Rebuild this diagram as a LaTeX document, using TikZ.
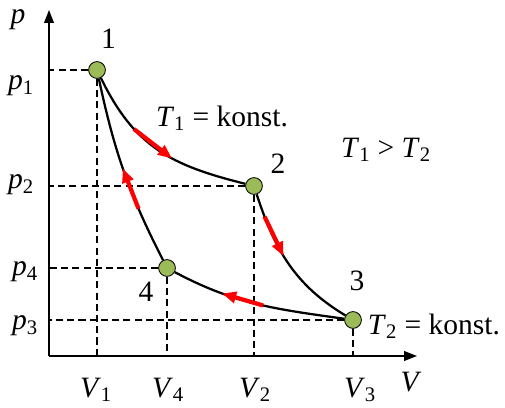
\documentclass[tikz,border=0pt]{standalone}
\usepackage{fontspec}
\setmainfont{Liberation Serif}
\usetikzlibrary{arrows.meta,positioning}
\definecolor{dotgreen}{HTML}{9BBB59}
\newcommand{\sym}[2]{\textit{#1}\textsubscript{#2}}
\tikzset{
    state/.style={circle, draw, fill=dotgreen, minimum size=4.2mm, inner sep=0pt, line width=0.6pt},
    curve/.style={draw, line width=1.6pt},
    flow/.style={draw=red, line width=3pt, -{Triangle[length=10pt,width=8pt]}},
    guide/.style={draw, dash pattern=on 5pt off 3pt, line width=0.8pt},
    axis/.style={draw, line width=1.2pt, -{Triangle[length=3.2mm,width=2.4mm]}}
}

\begin{document}
\begin{tikzpicture}[font=\fontsize{21}{25}\selectfont]
    \useasboundingbox (-1.225,-1.3) rectangle (11.4,8.9);
    % axes
    \coordinate (O) at (0,0);
    \coordinate (Ytop) at (0,8.65);
    \coordinate (Xend) at (9.2,0);
    \draw[axis] (O) -- (Ytop);
    \draw[axis] (O) -- (Xend);
    \node (pAx) at (-0.775,8.4) {\textit{p}};
    \node (VAx) at (9.05,-0.65) {\textit{V}};

    % Nodes
    \node[state] (S1) at (1.2,7.15) {};
    \node[state] (S2) at (5.125,4.25) {};
    \node[state] (S3) at (7.6,0.9) {};
    \node[state] (S4) at (2.95,2.2) {};
    \node (L1) at (1.49,7.925) {1};
    \node (L2) at (5.725,4.8) {2};
    \node (L3) at (7.7,1.875) {3};
    \node (L4) at (2.425,1.6) {4};

    % guide lines
    \draw[guide] (S1) -- (S1 -| O);
    \draw[guide] (S2) -- (S2 -| O);
    \draw[guide] (S3) -- (S3 -| O);
    \draw[guide] (S4) -- (S4 -| O);
    \draw[guide] (S1) -- (S1 |- O);
    \draw[guide] (S2) -- (S2 |- O);
    \draw[guide] (S3) -- (S3 |- O);
    \draw[guide] (S4) -- (S4 |- O);

    % axis labels
    \node (p1) at (-0.7,6.75) {\sym{p}{1}};
    \node (p2) at (-0.7,4.275) {\sym{p}{2}};
    \node (p4) at (-0.6,2.1) {\sym{p}{4}};
    \node (p3) at (-0.6,0.75) {\sym{p}{3}};
    \node (V1) at (1.175,-0.85) {\sym{V}{1}};
    \node (V4) at (2.975,-0.85) {\sym{V}{4}};
    \node (V2) at (5.15,-0.85) {\sym{V}{2}};
    \node (V3) at (7.775,-0.85) {\sym{V}{3}};

    % edges
    \draw[curve] (S1) to[out=-64,in=166,looseness=1.1] coordinate[pos=0.31] (a12) coordinate[pos=0.6] (b12) (S2);
    \draw[curve] (S2) to[out=-72,in=149] coordinate[pos=0.14] (a23) coordinate[pos=0.43] (b23) (S3);
    \draw[curve] (S4) to[out=-28,in=172] coordinate[pos=0.28] (b43) coordinate[pos=0.54] (a43) (S3);
    \draw[curve] (S1) to[out=-78,in=117] coordinate[pos=0.48] (b41) coordinate[pos=0.72] (a41) (S4);
    \draw[flow] (a12) -- (b12);
    \draw[flow] (a23) -- (b23);
    \draw[flow] (a43) -- (b43);
    \draw[flow] (a41) -- (b41);

    % texts
    \node (T1) at (4.325,5.95) {\sym{T}{1} = konst.};
    \node (Tcmp) at (8.425,5.15) {\sym{T}{1} > \sym{T}{2}};
    \node[anchor=west] (T2) at (7.85,0.75) {\sym{T}{2} = konst.};
\end{tikzpicture}
\end{document}
